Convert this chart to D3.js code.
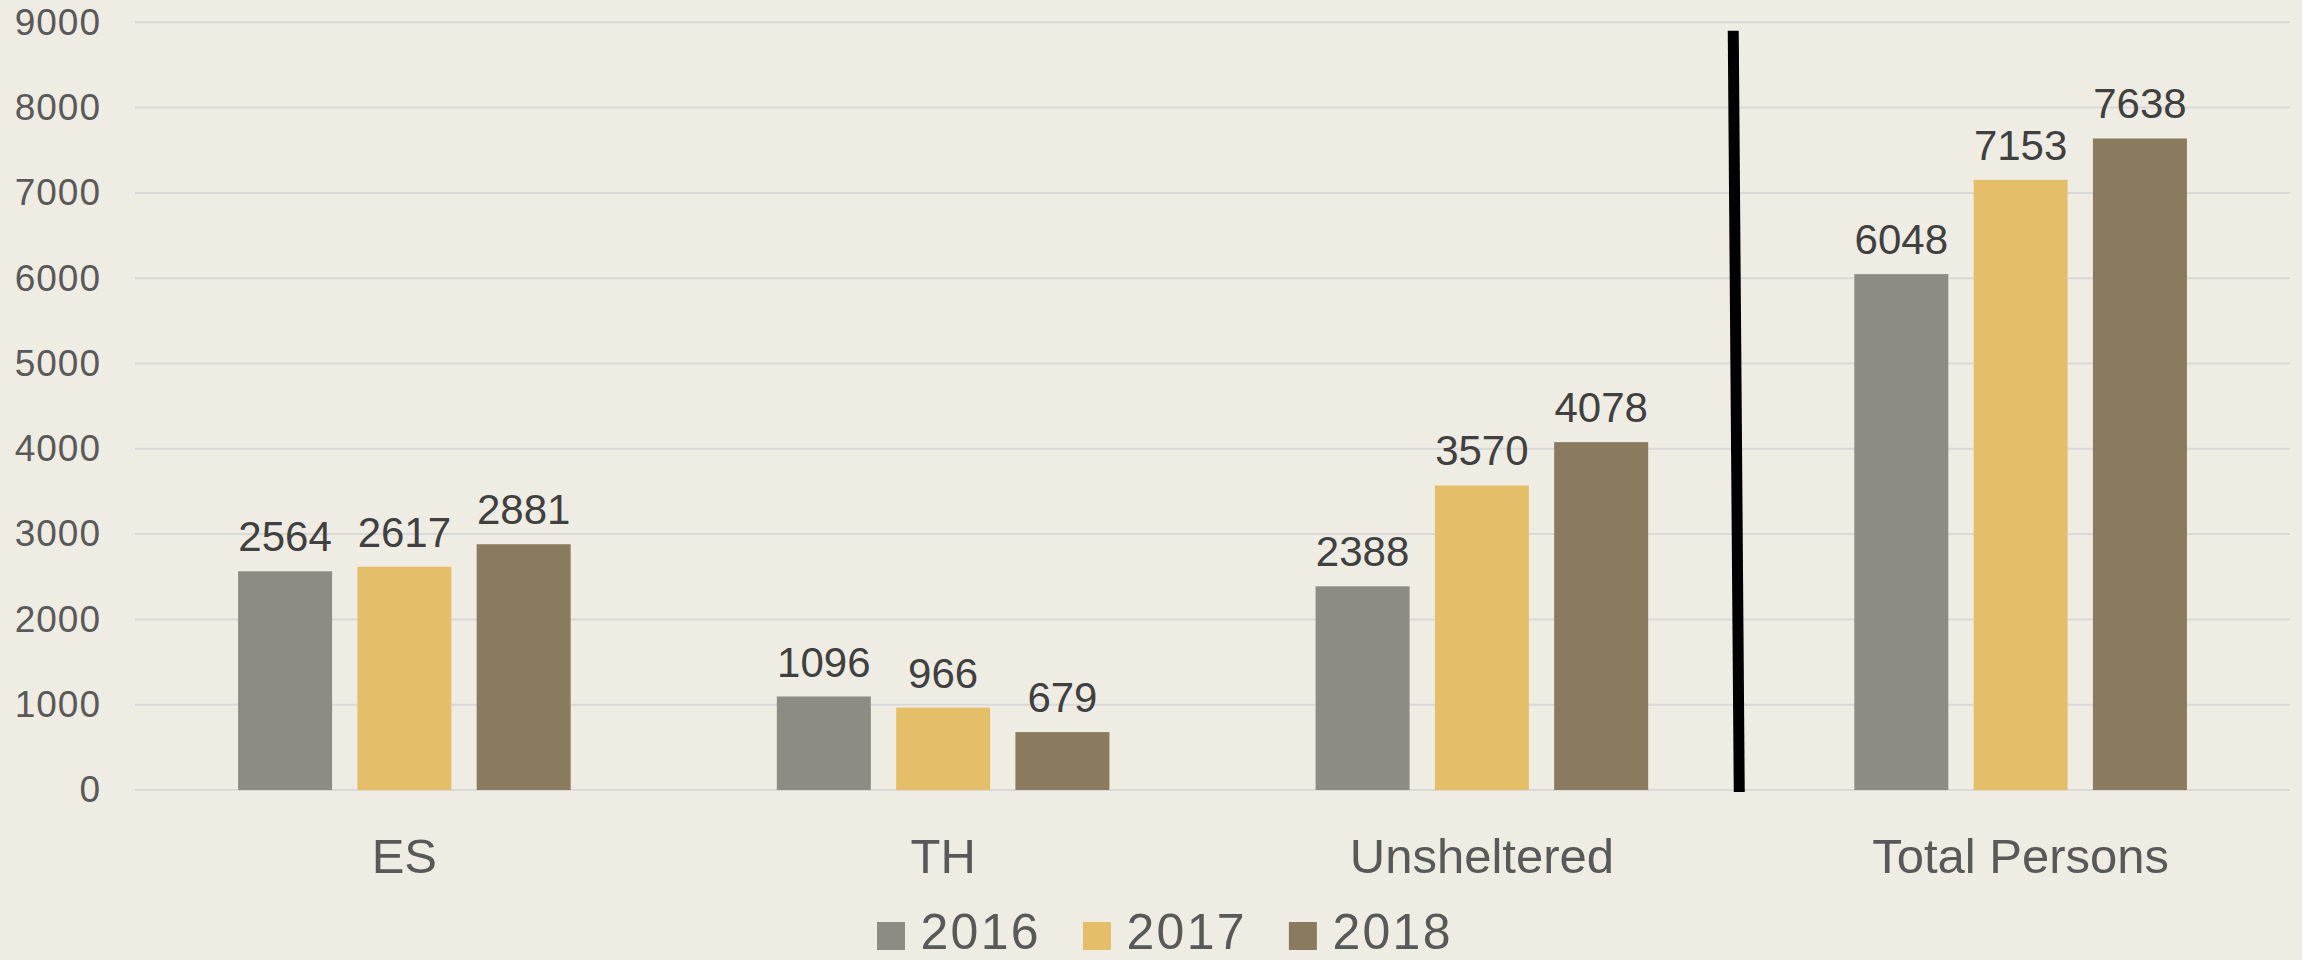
<!DOCTYPE html>
<html>
<head>
<meta charset="utf-8">
<script src="https://cdn.jsdelivr.net/npm/d3@7"></script>
<style>
  html, body { margin: 0; padding: 0; background: #efece4; }
  svg { display: block; }
</style>
</head>
<body>
<script>
'use strict';
(function () {

  // chart data
  const categories = ["ES", "TH", "Unsheltered", "Total Persons"];
  const years = ["2016", "2017", "2018"];
  const values2016 = [2564, 1096, 2388, 6048];
  const values2017 = [2617, 966, 3570, 7153];
  const values2018 = [2881, 679, 4078, 7638];
  const yTicks = [0, 1000, 2000, 3000, 4000, 5000, 6000, 7000, 8000, 9000];
  const colors = ["#8c8c84", "#e5be69", "#8a7b5f"];

  const series = [values2016, values2017, values2018];

  const width = 2302, height = 960;
  const plot = { left: 135, right: 2290, top: 22.3, bottom: 790 };

  let svg = d3.select("body")
    .append("svg")
    .attr("width", width)
    .attr("height", height);

  svg.append("rect")
    .attr("width", width)
    .attr("height", height)
    .attr("fill", "#efece4");

  // scales
  let x0 = d3.scaleBand()
    .domain(categories)
    .range([plot.left, plot.right]);

  let x1 = d3.scaleBand()
    .domain(years)
    .range([0, x0.bandwidth()])
    .paddingInner(0.212)
    .paddingOuter(0.864);

  let y = d3.scaleLinear()
    .domain([0, 9000])
    .range([plot.bottom, plot.top]);

  // gridlines
  svg.append("g")
    .selectAll("line")
    .data(yTicks)
    .enter()
    .append("line")
    .attr("x1", plot.left)
    .attr("x2", plot.right)
    .attr("y1", (d) => y(d))
    .attr("y2", (d) => y(d))
    .attr("stroke", "#d9d9d9")
    .attr("stroke-width", 2);

  // y axis labels
  let yAxis = d3.axisLeft(y)
    .tickValues(yTicks)
    .tickFormat(d3.format("d"))
    .tickSize(0)
    .tickPadding(0);
  let yG = svg.append("g")
    .attr("transform", "translate(101, 0)")
    .call(yAxis);
  yG.select(".domain").remove();
  yG.selectAll("text")
    .attr("fill", "#595959")
    .style("font-family", "'Liberation Sans', Arial, sans-serif")
    .style("font-size", "37px")
    .style("letter-spacing", "1px");

  // bars
  let rows = [];
  categories.forEach((c, i) => {
    years.forEach((yr, j) => {
      rows.push({ cat: c, year: yr, value: series[j][i], color: colors[j] });
    });
  });

  svg.append("g")
    .selectAll("rect")
    .data(rows)
    .enter()
    .append("rect")
    .attr("x", (d) => x0(d.cat) + x1(d.year))
    .attr("y", (d) => y(d.value))
    .attr("width", x1.bandwidth())
    .attr("height", (d) => y(0) - y(d.value))
    .attr("fill", (d) => d.color);

  // value labels
  svg.append("g")
    .selectAll("text")
    .data(rows)
    .enter()
    .append("text")
    .attr("x", (d) => x0(d.cat) + x1(d.year) + x1.bandwidth() / 2)
    .attr("y", (d) => y(d.value) - 20)
    .attr("text-anchor", "middle")
    .attr("fill", "#404040")
    .style("font-family", "'Liberation Sans', Arial, sans-serif")
    .style("font-size", "42px")
    .text((d) => d.value);

  // category labels
  let xAxis = d3.axisBottom(x0).tickSize(0).tickPadding(0);
  let xG = svg.append("g")
    .attr("transform", "translate(0, " + plot.bottom + ")")
    .call(xAxis);
  xG.select(".domain").remove();
  xG.selectAll("text")
    .attr("dy", null)
    .attr("y", 83)
    .attr("fill", "#595959")
    .style("font-family", "'Liberation Sans', Arial, sans-serif")
    .style("font-size", "49px");

  // divider drawn between Unsheltered and Total Persons
  let divX = x0("Total Persons") - 12;
  svg.append("line")
    .attr("x1", divX - 6)
    .attr("y1", y(8900))
    .attr("x2", divX)
    .attr("y2", y(0) + 2)
    .attr("stroke", "#000000")
    .attr("stroke-width", 11);

  // legend
  let legend = svg.append("g");
  let lx = 877;
  years.forEach((yr, j) => {
    legend.append("rect")
      .attr("x", lx)
      .attr("y", 922)
      .attr("width", 28)
      .attr("height", 28)
      .attr("fill", colors[j]);
    let t = legend.append("text")
      .attr("x", lx + 43.5)
      .attr("y", 949)
      .attr("fill", "#595959")
      .style("font-family", "'Liberation Sans', Arial, sans-serif")
      .style("font-size", "50px")
      .style("letter-spacing", "2.3px")
      .text(yr);
    lx += 43.5 + t.node().getComputedTextLength() + 42;
  });

})();
</script>
</body>
</html>
